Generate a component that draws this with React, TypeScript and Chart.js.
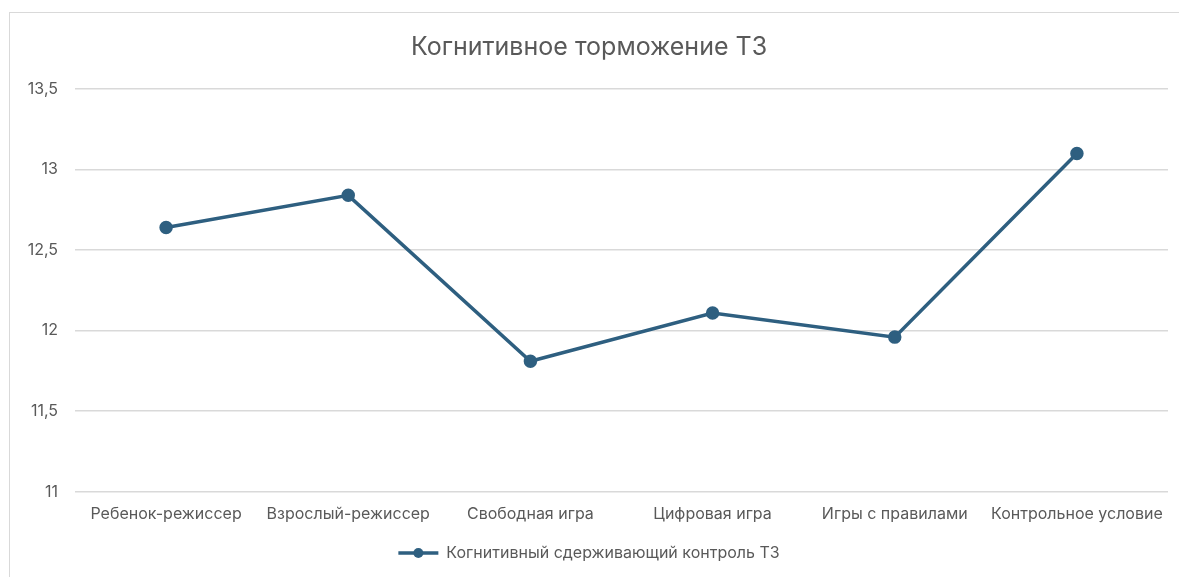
import React, { useEffect, useRef } from "react";
import { Chart, registerables } from "chart.js";

Chart.register(...registerables);

const categories = [
  "Ребенок-режиссер",
  "Взрослый-режиссер",
  "Свободная игра",
  "Цифровая игра",
  "Игры с правилами",
  "Контрольное условие",
];
const seriesValues = [12.64, 12.84, 11.81, 12.11, 11.96, 13.1];
const seriesName = "Когнитивный сдерживающий контроль Т3";
const chartTitle = "Когнитивное торможение Т3";
const yMin = 11;
const yMax = 13.5;
const yStep = 0.5;

export default function App() {
  const ref = useRef<HTMLCanvasElement | null>(null);
  useEffect(() => {
    if (!ref.current) return;
    const font = "Inter, 'Noto Sans', sans-serif";
    const chart = new Chart(ref.current, {
      type: "line",
      data: {
        labels: categories,
        datasets: [
          {
            label: seriesName,
            data: seriesValues,
            borderColor: "#2e5f80",
            backgroundColor: "#2e5f80",
            pointBackgroundColor: "#2e5f80",
            pointBorderColor: "#2e5f80",
            borderWidth: 3.5,
            pointRadius: 5,
            tension: 0,
          },
        ],
      },
      options: {
        responsive: false,
        animation: false,
        layout: { padding: { left: 0, right: 12, top: 19, bottom: 6 } },
        plugins: {
          title: {
            display: true,
            text: chartTitle,
            color: "#595959",
            font: { family: font, size: 25, weight: "normal" },
            padding: { top: 0, bottom: 27 },
          },
          legend: {
            position: "bottom",
            labels: {
              color: "#595959",
              font: { family: font, size: 16 },
              boxWidth: 40,
              boxHeight: 0,
              generateLabels: (c: any) => {
                const ds = c.data.datasets[0];
                return [
                  {
                    text: ds.label,
                    fillStyle: ds.borderColor,
                    strokeStyle: ds.borderColor,
                    lineWidth: 3.5,
                    datasetIndex: 0,
                    fontColor: "#595959",
                  },
                ];
              },
            },
          },
          tooltip: { enabled: false },
        },
        scales: {
          x: {
            offset: true,
            grid: { display: false },
            border: { display: false },
            afterFit: (s: any) => {
              s.height += 6;
            },
            ticks: {
              color: "#595959",
              font: { family: font, size: 16 },
              padding: 5,
              maxRotation: 0,
              autoSkip: false,
            },
          },
          y: {
            min: yMin,
            max: yMax,
            grid: { color: "#d9d9d9", lineWidth: 1.5, drawTicks: false },
            border: { display: false },
            afterFit: (s: any) => {
              s.width = 65;
            },
            ticks: {
              stepSize: yStep,
              color: "#595959",
              font: { family: font, size: 16 },
              padding: 17,
              callback: (v: any) => String(v).replace(".", ","),
            },
          },
        },
      },
      plugins: [
        {
          id: "legendMarker",
          afterDraw: (c: any) => {
            const lg = c.legend;
            if (!lg || !lg.legendHitBoxes || !lg.legendHitBoxes.length) return;
            const hb = lg.legendHitBoxes[0];
            const ctx = c.ctx;
            const cx = hb.left + 20;
            const cy = hb.top + hb.height / 2;
            ctx.save();
            ctx.fillStyle = "#2e5f80";
            ctx.beginPath();
            ctx.arc(cx, cy, 5, 0, Math.PI * 2);
            ctx.fill();
            ctx.restore();
          },
        },
      ],
    });
    return () => chart.destroy();
  }, []);
  return (
    <div
      style={{
        position: "fixed",
        left: 9,
        top: 12,
        width: 1200,
        height: 600,
        borderLeft: "1px solid #d9d9d9",
        borderTop: "1px solid #d9d9d9",
        background: "#fff",
      }}
    >
      <canvas ref={ref} width={1170} height={564} style={{ display: "block" }} />
    </div>
  );
}
